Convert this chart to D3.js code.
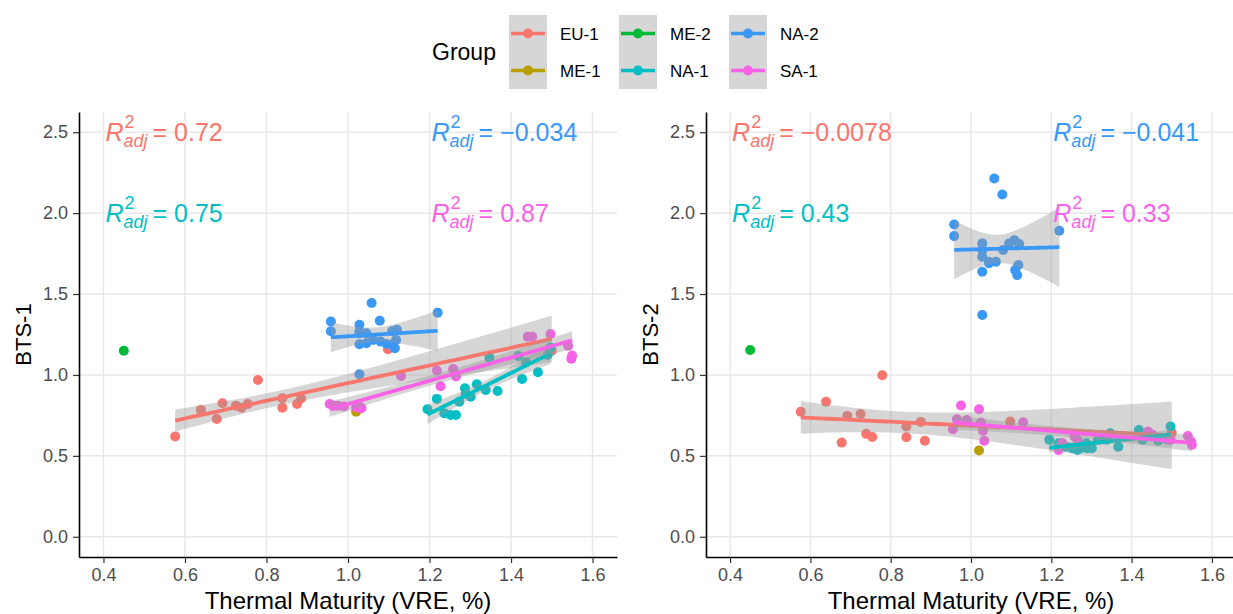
<!DOCTYPE html>
<html>
<head>
<meta charset="utf-8">
<script src="https://cdn.jsdelivr.net/npm/d3@7"></script>
<style>
  body { margin: 0; background: #fff; }
  text { font-family: "Liberation Sans", Arial, sans-serif; }
</style>
</head>
<body>
<svg id="chart" width="1233" height="614"></svg>
<script>
// groups and their colours
const groupNames = ["EU-1", "ME-1", "ME-2", "NA-1", "NA-2", "SA-1"];
const groupColors = ["#F8766D", "#B79F00", "#00BA38", "#00BFC4", "#3A98F7", "#F862E6"];

// thermal maturity (VRE, %) and the two BTS indices, per group
const euX    = [0.576, 0.639, 0.678, 0.692, 0.725, 0.739, 0.754, 0.779, 0.839, 0.839, 0.875, 0.885, 1.098, 1.500];
const euBts1 = [0.620, 0.784, 0.728, 0.825, 0.810, 0.798, 0.821, 0.969, 0.856, 0.798, 0.821, 0.854, 1.159, 1.150];
const euBts2 = [0.773, 0.835, 0.582, 0.747, 0.759, 0.636, 0.617, 0.998, 0.681, 0.615, 0.710, 0.593, 0.712, 0.642];

const me1X    = [1.020];
const me1Bts1 = [0.773];
const me1Bts2 = [0.533];

const me2X    = [0.450];
const me2Bts1 = [1.150];
const me2Bts2 = [1.154];

const na1X    = [1.195, 1.218, 1.236, 1.252, 1.265, 1.273, 1.287, 1.289, 1.301, 1.316, 1.338, 1.347, 1.367, 1.418, 1.427, 1.437, 1.466, 1.490, 1.497];
const na1Bts1 = [0.788, 0.852, 0.764, 0.753, 0.753, 0.835, 0.918, 0.883, 0.866, 0.943, 0.907, 1.107, 0.901, 1.117, 0.975, 1.078, 1.017, 1.123, 1.170];
const na1Bts2 = [0.599, 0.578, 0.557, 0.547, 0.537, 0.547, 0.578, 0.547, 0.547, 0.599, 0.600, 0.640, 0.557, 0.660, 0.599, 0.620, 0.593, 0.600, 0.681];

const na2X    = [0.958, 0.958, 1.028, 1.028, 1.028, 1.028, 1.028, 1.045, 1.045, 1.058, 1.062, 1.078, 1.080, 1.095, 1.108, 1.110, 1.115, 1.118, 1.120, 1.220];
const na2Bts1 = [1.330, 1.270, 1.310, 1.257, 1.190, 1.004, 1.270, 1.257, 1.196, 1.445, 1.216, 1.335, 1.206, 1.191, 1.270, 1.190, 1.165, 1.216, 1.280, 1.385];
const na2Bts2 = [1.930, 1.858, 1.813, 1.772, 1.730, 1.638, 1.370, 1.700, 1.690, 2.214, 1.700, 2.115, 1.772, 1.813, 1.833, 1.648, 1.617, 1.679, 1.809, 1.891];

const saX    = [0.955, 0.965, 0.975, 0.990, 1.020, 1.025, 1.030, 1.033, 1.130, 1.218, 1.227, 1.258, 1.265, 1.441, 1.452, 1.497, 1.540, 1.548, 1.550];
const saBts1 = [0.821, 0.810, 0.809, 0.805, 0.800, 0.798, 0.800, 0.795, 0.994, 1.027, 0.930, 1.037, 0.990, 1.236, 1.236, 1.253, 1.180, 1.100, 1.120];
const saBts2 = [0.665, 0.726, 0.811, 0.722, 0.788, 0.706, 0.656, 0.593, 0.708, 0.537, 0.580, 0.620, 0.600, 0.650, 0.630, 0.600, 0.623, 0.588, 0.568];

// adjusted R^2 labels: [group, value] for each panel
const r2Bts1 = [["EU-1", "0.72"], ["NA-2", "\u22120.034"], ["NA-1", "0.75"], ["SA-1", "0.87"]];
const r2Bts2 = [["EU-1", "\u22120.0078"], ["NA-2", "\u22120.041"], ["NA-1", "0.43"], ["SA-1", "0.33"]];

const xTicks = [0.4, 0.6, 0.8, 1.0, 1.2, 1.4, 1.6];
const yTicks = [0, 0.5, 1.0, 1.5, 2.0, 2.5];

const series = [
    {x: euX,  bts1: euBts1,  bts2: euBts2},
    {x: me1X, bts1: me1Bts1, bts2: me1Bts2},
    {x: me2X, bts1: me2Bts1, bts2: me2Bts2},
    {x: na1X, bts1: na1Bts1, bts2: na1Bts2},
    {x: na2X, bts1: na2Bts1, bts2: na2Bts2},
    {x: saX,  bts1: saBts1,  bts2: saBts2}
].map((s, i) => ({...s, name: groupNames[i], color: groupColors[i]}));

const color = d3.scaleOrdinal().domain(groupNames).range(groupColors);

// two-sided 95% t quantile (Cornish-Fisher)
function qt975(df) {
    const z = 1.959964;
    return z + (z ** 3 + z) / (4 * df)
        + (5 * z ** 5 + 16 * z ** 3 + 3 * z) / (96 * df * df)
        + (3 * z ** 7 + 19 * z ** 5 + 17 * z ** 3 - 15 * z) / (384 * df ** 3);
}

// lm fit + confidence band, like geom_smooth(method = "lm")
function lmBand(xs, ys) {
    const n = xs.length;
    const mx = d3.mean(xs), my = d3.mean(ys);
    let sxx = 0, sxy = 0;
    xs.forEach((x, i) => { sxx += (x - mx) ** 2; sxy += (x - mx) * (ys[i] - my); });
    const b = sxy / sxx, a = my - b * mx;
    let sse = 0;
    xs.forEach((x, i) => { sse += (ys[i] - a - b * x) ** 2; });
    const s = Math.sqrt(sse / (n - 2));
    const t = qt975(n - 2);
    const [lo, hi] = d3.extent(xs);
    return d3.range(80).map(k => {
        const x = lo + (hi - lo) * k / 79;
        const f = a + b * x;
        const se = s * Math.sqrt(1 / n + (x - mx) ** 2 / sxx);
        return {x: x, y: f, lo: f - t * se, hi: f + t * se};
    });
}

const svg = d3.select('#chart');
const plotTop = 112, plotBottom = 557;

function drawPanel(left, right, key, yTitle, r2) {
    const x = d3.scaleLinear().domain([0.34, 1.66]).range([left, right]);
    const y = d3.scaleLinear().domain([-0.125, 2.625]).range([plotBottom, plotTop]);
    const g = svg.append('g');

    // grid
    g.selectAll('.gx').data(xTicks).enter().append('line')
        .attr('x1', d => x(d)).attr('x2', d => x(d))
        .attr('y1', plotTop).attr('y2', plotBottom)
        .attr('stroke', '#E8E8E8').attr('stroke-width', 1.5);
    g.selectAll('.gy').data(yTicks).enter().append('line')
        .attr('x1', left).attr('x2', right)
        .attr('y1', d => y(d)).attr('y2', d => y(d))
        .attr('stroke', '#E8E8E8').attr('stroke-width', 1.5);

    // points
    series.forEach(s => {
        g.selectAll(null).data(s.x.map((v, i) => [v, s[key][i]])).enter().append('circle')
            .attr('cx', d => x(d[0])).attr('cy', d => y(d[1]))
            .attr('r', 5).attr('fill', s.color);
    });

    // smooths (ribbon over points, then line)
    series.filter(s => s.x.length > 2).forEach(s => {
        const band = lmBand(s.x, s[key]);
        g.append('path').datum(band)
            .attr('d', d3.area().x(d => x(d.x)).y0(d => y(d.lo)).y1(d => y(d.hi)))
            .attr('fill', '#999999').attr('fill-opacity', 0.4);
        g.append('path').datum(band)
            .attr('d', d3.line().x(d => x(d.x)).y(d => y(d.y)))
            .attr('fill', 'none').attr('stroke', s.color).attr('stroke-width', 3.8);
    });

    // axes
    const ax = g.append('g').attr('transform', 'translate(0,' + plotBottom + ')')
        .call(d3.axisBottom(x).tickValues(xTicks).tickFormat(d3.format('.1f')).tickSize(6).tickSizeOuter(0).tickPadding(5));
    const ay = g.append('g').attr('transform', 'translate(' + left + ',0)')
        .call(d3.axisLeft(y).tickValues(yTicks).tickFormat(d3.format('.1f')).tickSize(6).tickSizeOuter(0).tickPadding(5));
    [ax, ay].forEach(a => {
        a.select('.domain').attr('stroke', '#000').attr('stroke-width', 1.6);
        a.selectAll('.tick line').attr('stroke', '#333').attr('stroke-width', 1.2);
        a.selectAll('.tick text').attr('fill', '#4D4D4D').style('font-size', '18px')
            .style('font-family', '"Liberation Sans", Arial, sans-serif');
    });

    // titles
    g.append('text')
        .attr('x', (left + right) / 2).attr('y', 609)
        .attr('text-anchor', 'middle').style('font-size', '24px')
        .text('Thermal Maturity (VRE, %)');
    g.append('text')
        .attr('transform', 'translate(' + (left - 48) + ',' + ((plotTop + plotBottom) / 2) + ') rotate(-90)')
        .attr('text-anchor', 'middle').style('font-size', '22px')
        .text(yTitle);

    // adjusted R^2 annotations
    const spots = [[0.4, 2.5], [1.2, 2.5], [0.4, 2.0], [1.2, 2.0]];
    r2.forEach((r, i) => {
        const c = color(r[0]);
        const lg = g.append('g')
            .attr('transform', 'translate(' + (x(spots[i][0]) + 2) + ',' + (y(spots[i][1]) + 9) + ')')
            .attr('fill', c);
        const R = lg.append('text').style('font-size', '25px').style('font-style', 'italic').text('R');
        const wR = R.node().getComputedTextLength();
        const sup = lg.append('text').attr('x', wR + 1).attr('y', -13).style('font-size', '18px').text('2');
        const sub = lg.append('text').attr('x', wR).attr('y', 6)
            .style('font-size', '18px').style('font-style', 'italic').text('adj');
        const w = Math.max(sup.node().getComputedTextLength(), sub.node().getComputedTextLength());
        lg.append('text').attr('x', wR + w + 5).style('font-size', '25px').text('= ' + r[1]);
    });
}

drawPanel(79, 617, 'bts1', 'BTS-1', r2Bts1);
drawPanel(706, 1236, 'bts2', 'BTS-2', r2Bts2);

// legend
const legend = svg.append('g');
legend.append('text').attr('x', 432).attr('y', 60).style('font-size', '23px').text('Group');
groupNames.forEach((name, i) => {
    const col = Math.floor(i / 2), row = i % 2;
    const kx = 509 + col * 110, ky = 15 + row * 37;
    const k = legend.append('g').attr('transform', 'translate(' + kx + ',' + ky + ')');
    k.append('rect').attr('width', 38).attr('height', 37).attr('fill', '#999999').attr('fill-opacity', 0.4);
    k.append('line').attr('x1', 2).attr('x2', 36).attr('y1', 18.5).attr('y2', 18.5)
        .attr('stroke', color(name)).attr('stroke-width', 3.5);
    k.append('circle').attr('cx', 19).attr('cy', 18.5).attr('r', 5).attr('fill', color(name));
    legend.append('text').attr('x', kx + 51).attr('y', ky + 24.5).style('font-size', '17px').text(name);
});
</script>
</body>
</html>
